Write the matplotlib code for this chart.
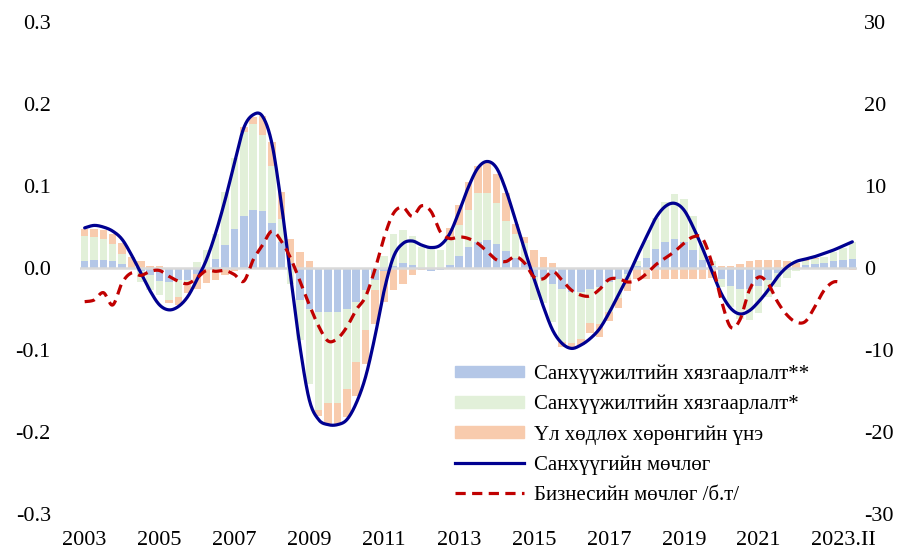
import numpy as np
import matplotlib.pyplot as plt
from matplotlib.patches import Patch
from matplotlib.lines import Line2D

plt.rcParams['font.family'] = ['Liberation Serif', 'DejaVu Serif']

# quarterly data, 2003Q1 onward
credit_2 = [0.009, 0.010, 0.010, 0.009, 0.005, 0.000, -0.003, -0.008, -0.016, -0.017,
            -0.015, -0.015, -0.007, 0.000, 0.011, 0.028, 0.048, 0.063, 0.071, 0.069,
            0.055, 0.032, 0.006, -0.039, -0.050, -0.053, -0.053, -0.053, -0.050, -0.042,
            -0.027, -0.015, -0.003, 0.002, 0.006, 0.004, 0.000, -0.004, -0.002, 0.004,
            0.015, 0.026, 0.032, 0.034, 0.029, 0.021, 0.012, 0.006, -0.011, -0.013,
            -0.019, -0.026, -0.029, -0.029, -0.025, -0.023, -0.017, -0.013, -0.007, 0.002,
            0.012, 0.023, 0.032, 0.035, 0.032, 0.022, 0.010, 0.003, -0.013, -0.022,
            -0.025, -0.025, -0.022, -0.015, -0.006, -0.002, 0.000, 0.004, 0.005, 0.006,
            0.008, 0.010, 0.011]
credit_1 = [0.030, 0.028, 0.025, 0.020, 0.012, 0.000, -0.014, -0.019, -0.017, -0.022,
            -0.020, -0.006, 0.007, 0.022, 0.031, 0.065, 0.086, 0.103, 0.105, 0.093,
            0.069, 0.028, -0.020, -0.049, -0.092, -0.120, -0.112, -0.112, -0.097, -0.073,
            -0.049, -0.012, 0.015, 0.039, 0.040, 0.035, 0.026, 0.024, 0.022, 0.030,
            0.037, 0.045, 0.059, 0.057, 0.050, 0.036, 0.030, 0.024, -0.028, -0.030,
            -0.047, -0.064, -0.062, -0.057, -0.042, -0.045, -0.037, -0.024, -0.005, 0.006,
            0.022, 0.038, 0.049, 0.055, 0.052, 0.041, 0.020, 0.005, -0.010, -0.025,
            -0.037, -0.038, -0.033, -0.020, -0.017, -0.010, -0.004, 0.004, 0.006, 0.008,
            0.011, 0.014, 0.021]
house = [0.009, 0.010, 0.011, 0.012, 0.013, 0.013, 0.008, 0.003, 0.002, -0.004,
         -0.010, -0.010, -0.018, -0.018, -0.015, -0.009, -0.004, 0.006, 0.008, 0.024,
         0.030, 0.033, 0.029, 0.020, 0.008, -0.008, -0.026, -0.025, -0.035, -0.041,
         -0.041, -0.041, -0.039, -0.027, -0.019, -0.009, -0.002, 0.000, 0.000, 0.015,
         0.025, 0.034, 0.033, 0.037, 0.036, 0.034, 0.012, 0.008, 0.022, 0.013,
         0.006, -0.006, -0.008, -0.008, -0.012, -0.016, -0.010, -0.012, -0.016, -0.013,
         -0.013, -0.013, -0.013, -0.013, -0.013, -0.013, -0.013, -0.012, 0.003, 0.003,
         0.005, 0.008, 0.010, 0.010, 0.010, 0.009, 0.006, 0.002, 0.001, 0.000,
         -0.001, -0.001, -0.002]
fin_cycle = [0.049, 0.052, 0.050, 0.045, 0.035, 0.016, -0.006, -0.028, -0.045, -0.051,
             -0.047, -0.035, -0.014, 0.010, 0.043, 0.083, 0.128, 0.171, 0.187, 0.185,
             0.152, 0.079, -0.010, -0.096, -0.161, -0.185, -0.191, -0.191, -0.185, -0.165,
             -0.133, -0.084, -0.027, 0.014, 0.030, 0.033, 0.028, 0.025, 0.028, 0.042,
             0.069, 0.099, 0.122, 0.130, 0.122, 0.095, 0.059, 0.022, -0.013, -0.047,
             -0.076, -0.092, -0.098, -0.094, -0.086, -0.074, -0.055, -0.033, -0.011, 0.014,
             0.038, 0.061, 0.075, 0.079, 0.071, 0.050, 0.024, -0.004, -0.031, -0.049,
             -0.056, -0.052, -0.041, -0.027, -0.011, 0.001, 0.008, 0.011, 0.014, 0.018,
             0.022, 0.027, 0.032]
bus_cycle = [-4.1, -3.9, -3.0, -4.5, -1.8, -0.6, -0.9, -0.4, -0.3, -1.0,
             -1.6, -1.9, -1.2, -0.3, -0.4, -0.3, -0.8, -1.6, 1.0, 2.8,
             4.5, 3.3, 1.2, -1.6, -4.5, -7.1, -8.9, -8.6, -7.2, -5.1,
             -3.5, -0.2, 3.8, 6.7, 7.4, 6.3, 7.6, 6.9, 4.4, 3.6,
             3.8, 3.6, 3.0, 2.0, 1.0, 0.8, 1.4, 0.6, -1.1, -1.3,
             -0.4, -1.5, -2.7, -3.3, -3.4, -2.6, -1.4, -1.3, -1.7, -1.5,
             -0.7, 0.4, 1.2, 2.0, 3.0, 3.8, 3.6, 0.6, -3.9, -7.2,
             -6.3, -2.7, -1.1, -1.9, -4.1, -5.7, -6.6, -6.5, -4.7, -2.7,
             -1.7, -1.8]

tick_pos = [0, 8, 16, 24, 32, 40, 48, 56, 64, 72, 81]
tick_labels = ['2003', '2005', '2007', '2009', '2011', '2013', '2015',
               '2017', '2019', '2021', '2023.II']

labels = ['Санхүүжилтийн хязгаарлалт**', 'Санхүүжилтийн хязгаарлалт*',
          'Үл хөдлөх хөрөнгийн үнэ', 'Санхүүгийн мөчлөг', 'Бизнесийн мөчлөг /б.т/']
colors = ['#b4c7e7', '#e2f0d9', '#f8cbad']


def smooth(y, n=20):
    # excel-like smoothed line (catmull-rom bezier)
    y = np.asarray(y, float)
    x = np.arange(len(y), dtype=float)
    p = np.column_stack([x, y])
    p = np.vstack([p[0], p, p[-1]])
    t = np.linspace(0, 1, n)[:, None]
    out = []
    for i in range(1, len(p) - 2):
        p0, p1, p2, p3 = p[i - 1], p[i], p[i + 1], p[i + 2]
        c1 = p1 + (p2 - p0) / 6
        c2 = p2 - (p3 - p1) / 6
        seg = ((1 - t) ** 3 * p1 + 3 * (1 - t) ** 2 * t * c1
               + 3 * (1 - t) * t ** 2 * c2 + t ** 3 * p2)
        out.append(seg)
    s = np.vstack(out)
    return s[:, 0], s[:, 1]


fig = plt.figure(figsize=(9.12, 5.52), dpi=100)
ax = fig.add_axes([0.0877, 0.0688, 0.852, 0.8912])
ax2 = ax.twinx()

idx = np.arange(len(credit_2))
pos_base = np.zeros(len(idx))
neg_base = np.zeros(len(idx))
for vals, c in zip([credit_2, credit_1, house], colors):
    v = np.array(vals)
    base = np.where(v >= 0, pos_base, neg_base)
    ax.bar(idx, v, bottom=base, width=0.8, color=c, edgecolor='none', zorder=2)
    pos_base += np.where(v >= 0, v, 0)
    neg_base += np.where(v < 0, v, 0)

ax.axhline(0, color='#d9d9d9', lw=1.8, zorder=3)

sx, sy = smooth(fin_cycle)
ax.plot(sx, sy, color='#000090', lw=2.3, zorder=4, solid_capstyle='round')
bx, by = smooth(bus_cycle)
ax2.plot(bx, by, color='#c00000', lw=2.3, ls=(0, (3.2, 2.0)), zorder=4)

ax.set_xlim(-0.5, len(idx) - 0.5)
ax.set_ylim(-0.3, 0.3)
ax2.set_ylim(-30, 30)
ax.set_yticks(np.arange(-3, 4) / 10)
ax.set_yticklabels(['-0.3', '-0.2', '-0.1', '0.0', '0.1', '0.2', '0.3'])
ax2.set_yticks(range(-30, 31, 10))
ax2.set_yticklabels(['-30', '-20', '-10', '0', '10', '20', '30'])
ax.set_xticks(tick_pos)
ax.set_xticklabels(tick_labels)

for a in (ax, ax2):
    for s in a.spines.values():
        s.set_visible(False)
    a.tick_params(length=0, labelsize=16)
ax.tick_params(axis='y', pad=21)
ax.tick_params(axis='x', pad=12)
ax2.tick_params(axis='y', pad=5)

handles = [Patch(color=c) for c in colors]
handles += [Line2D([], [], color='#000090', lw=2.3),
            Line2D([], [], color='#c00000', lw=2.3, ls=(0, (3.2, 2.0)))]
ax2.legend(handles, labels, loc='upper left', bbox_to_anchor=(0.49, 0.355),
           bbox_transform=fig.transFigure, frameon=False, fontsize=15,
           handlelength=3.3, handleheight=0.5, labelspacing=0.52,
           handletextpad=0.5, borderaxespad=0)

fig.savefig('out.png', dpi=100)
